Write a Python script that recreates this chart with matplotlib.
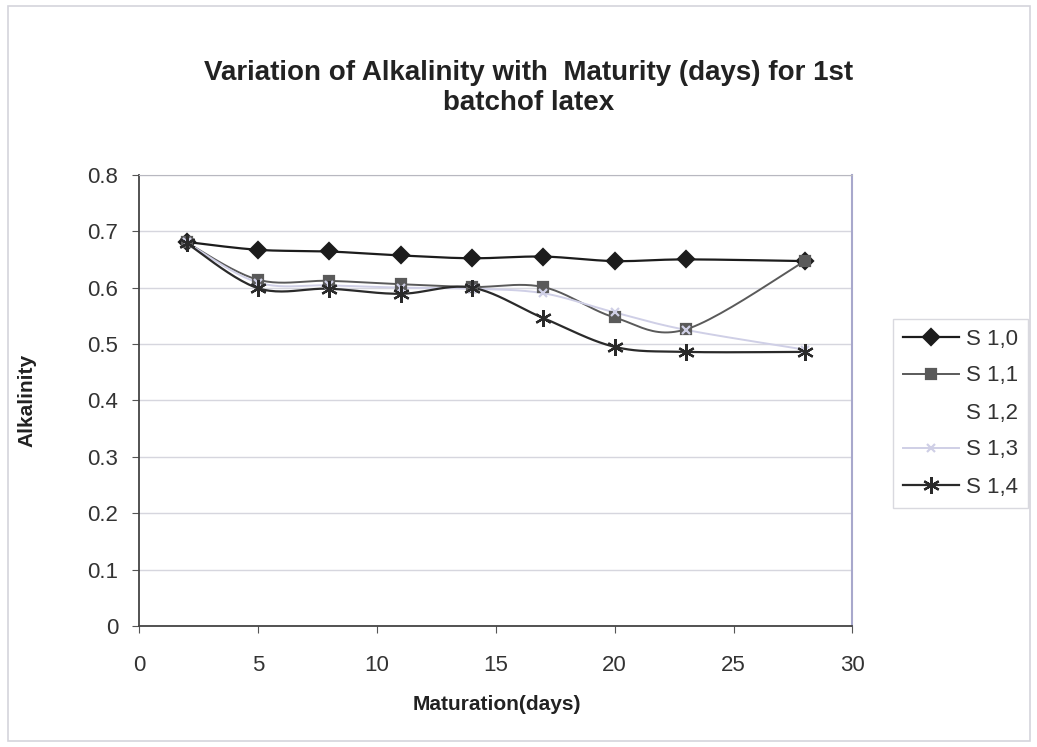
import numpy as np
import matplotlib.pyplot as plt
from matplotlib.patches import Rectangle

plt.rcParams['font.family'] = ['Liberation Sans', 'DejaVu Sans']

days = [2, 5, 8, 11, 14, 17, 20, 23, 28]
s10 = [0.681, 0.667, 0.664, 0.657, 0.652, 0.655, 0.647, 0.650, 0.647]
s11 = [0.680, 0.614, 0.612, 0.606, 0.601, 0.601, 0.547, 0.526, 0.647]
s12 = [np.nan] * 9
s13 = [0.680, 0.609, 0.604, 0.600, 0.598, 0.590, 0.556, 0.525, 0.490]
s14 = [0.679, 0.599, 0.598, 0.589, 0.600, 0.546, 0.495, 0.486, 0.486]


def smooth(x, y, n=25):
    # catmull-rom, looks like the excel "smoothed line"
    pts = np.column_stack([x, y])
    P = np.vstack([pts[0], pts, pts[-1]])
    t = np.linspace(0, 1, n)[:, None]
    out = []
    for i in range(1, len(P) - 2):
        p0, p1, p2, p3 = P[i - 1], P[i], P[i + 1], P[i + 2]
        seg = 0.5 * (2 * p1 + (p2 - p0) * t + (2 * p0 - 5 * p1 + 4 * p2 - p3) * t ** 2
                     + (3 * p1 - p0 - 3 * p2 + p3) * t ** 3)
        out.append(seg)
    c = np.vstack(out)
    return c[:, 0], c[:, 1]


fig = plt.figure(figsize=(10.37, 7.47), dpi=100)
ax = fig.add_axes([0.134, 0.162, 0.688, 0.604])

fig.patches.append(Rectangle((0.008, 0.008), 0.985, 0.984, transform=fig.transFigure,
                             fill=False, edgecolor='#d4d4dc', linewidth=1.2))

series = [
    (s10, 'S 1,0', '#1c1c1c', 'D', 8.5, 1.6),
    (s11, 'S 1,1', '#5a5a5a', 's', 7, 1.4),
    (s13, 'S 1,3', '#cfcfe6', 'x', 6, 1.4),
    (s14, 'S 1,4', '#2a2a2a', (6, 2, 0), 12, 1.6),
]

handles = []
for vals, lab, col, mk, ms, lw in series:
    xs, ys = smooth(days, vals)
    ax.plot(xs, ys, color=col, lw=lw, zorder=3)
    ax.plot(days, vals, ls='none', marker=mk, ms=ms, color=col, mew=1.6, zorder=4)
    h, = ax.plot([], [], color=col, lw=lw, marker=mk, ms=ms, mew=1.6, label=lab)
    handles.append(h)

h12, = ax.plot(days, s12, ls='none', color='none', label='S 1,2')
handles.insert(2, h12)

ax.set_xlim(0, 30)
ax.set_ylim(0, 0.8)
ax.set_xticks(range(0, 31, 5))
ax.set_yticks(np.arange(0, 0.81, 0.1))
ax.set_yticklabels(['0', '0.1', '0.2', '0.3', '0.4', '0.5', '0.6', '0.7', '0.8'])
ax.yaxis.grid(True, color='#d6d6de', lw=1)
ax.set_axisbelow(True)
ax.tick_params(axis='both', labelsize=16, labelcolor='#333333', color='#555555',
               direction='out', length=5)
ax.tick_params(axis='x', pad=16)
ax.tick_params(axis='y', pad=10)
for side in ['left', 'bottom']:
    ax.spines[side].set_color('#444444')
    ax.spines[side].set_linewidth(1.3)
ax.spines['top'].set_color('#b8b8c0')
ax.spines['right'].set_color('#a8a8cc')
ax.spines['right'].set_linewidth(1.5)

fig.text(0.51, 1 - 88 / 747, 'Variation of Alkalinity with  Maturity (days) for 1st\nbatchof latex',
         ha='center', va='center', fontsize=20, fontweight='bold', color='#222222',
         linespacing=1.25)
fig.text(27 / 1037, 1 - 400 / 747, 'Alkalinity', rotation=90, ha='center', va='center',
         fontsize=15, fontweight='bold', color='#222222')
fig.text(497 / 1037, 1 - 704 / 747, 'Maturation(days)', ha='center', va='center',
         fontsize=15, fontweight='bold', color='#222222')

leg = fig.legend(handles=handles, loc='center left',
                 bbox_to_anchor=(893 / 1037, 1 - 413 / 747), fontsize=16,
                 frameon=True, fancybox=False, edgecolor='#d0d0d8', handlelength=2.5,
                 labelspacing=0.72, borderpad=0.45, handletextpad=0.35, borderaxespad=0)
leg.get_frame().set_linewidth(1.0)
for t in leg.get_texts():
    t.set_color('#333333')

fig.savefig('out.png', dpi=100)
